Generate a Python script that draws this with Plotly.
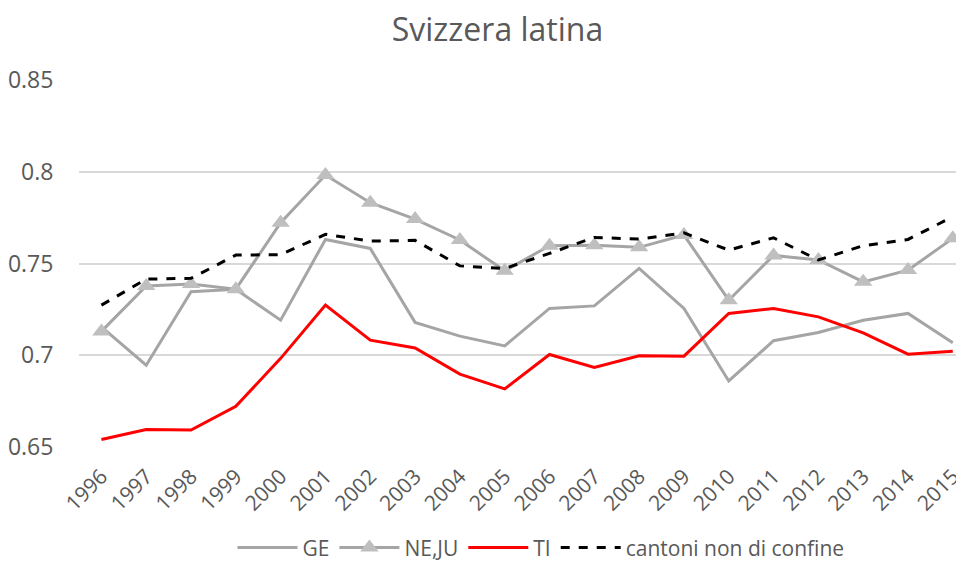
import plotly.graph_objects as go

years = list(range(1996, 2016))
year_labels = [str(y) for y in years]

ge = [0.7155, 0.6946, 0.7346, 0.7359, 0.7191, 0.7631, 0.7582, 0.7179, 0.7104, 0.7051,
      0.7255, 0.7269, 0.7473, 0.7255, 0.6860, 0.7079, 0.7124, 0.7191, 0.7228, 0.7068]
ne_ju = [0.7130, 0.7377, 0.7388, 0.7360, 0.7722, 0.7982, 0.7831, 0.7742, 0.7628, 0.7460,
         0.7597, 0.7600, 0.7588, 0.7655, 0.7300, 0.7544, 0.7519, 0.7400, 0.7464, 0.7637]
ti = [0.6541, 0.6595, 0.6592, 0.6722, 0.6983, 0.7273, 0.7082, 0.7040, 0.6897, 0.6817,
      0.7004, 0.6933, 0.6997, 0.6995, 0.7228, 0.7255, 0.7209, 0.7122, 0.7006, 0.7022]
non_confine = [0.7273, 0.7415, 0.7419, 0.7546, 0.7548, 0.7659, 0.7622, 0.7626, 0.7487, 0.7473,
               0.7555, 0.7642, 0.7633, 0.7667, 0.7573, 0.7640, 0.7519, 0.7597, 0.7631, 0.7755]

y_ticks = [0.65, 0.70, 0.75, 0.80, 0.85]
y_tick_labels = ["0.65", "0.7", "0.75", "0.8", "0.85"]

FONT = "Open Sans"
TXT = "#595959"

fig = go.Figure()
fig.add_trace(go.Scatter(x=years, y=ge, name="GE", mode="lines",
                         line=dict(color="#A5A5A5", width=3)))
fig.add_trace(go.Scatter(x=years, y=ne_ju, name="NE,JU", mode="lines+markers",
                         line=dict(color="#A5A5A5", width=3),
                         marker=dict(symbol="triangle-up", size=16, color="#BFBFBF",
                                     line=dict(width=0))))
fig.add_trace(go.Scatter(x=years, y=ti, name="TI", mode="lines",
                         line=dict(color="#FF0000", width=3)))
fig.add_trace(go.Scatter(x=years, y=non_confine, name="cantoni non di confine", mode="lines",
                         line=dict(color="#000000", width=3, dash="dash")))

fig.update_layout(
    width=956, height=561,
    margin=dict(l=68, r=0, t=72, b=122),
    paper_bgcolor="white", plot_bgcolor="white",
    font=dict(family=FONT, color=TXT, size=21),
    title=dict(text="Svizzera latina", x=0.512, xanchor="center",
               y=1 - 22 / 561, yanchor="middle",
               font=dict(family=FONT, size=32, color=TXT)),
    showlegend=True,
    legend=dict(orientation="h", x=0.522, xanchor="center", y=-0.275, yanchor="middle",
                font=dict(family=FONT, size=21, color=TXT), itemwidth=60,
                traceorder="normal"),
    xaxis=dict(range=[1995.5, 2015.25], tickmode="array", tickvals=years, ticktext=year_labels,
               tickangle=-45, showgrid=False, zeroline=False, showline=False,
               ticks="outside", ticklen=8, tickcolor="rgba(0,0,0,0)",
               ticklabeloverflow="allow",
               tickfont=dict(family=FONT, size=21, color=TXT)),
    yaxis=dict(range=[0.65, 0.85], tickmode="array", tickvals=y_ticks, ticktext=y_tick_labels,
               showgrid=True, gridcolor="#D9D9D9", gridwidth=1.5, zeroline=False, showline=False,
               ticks="outside", ticklen=20, tickcolor="rgba(0,0,0,0)",
               tickfont=dict(family=FONT, size=23, color=TXT)),
)

fig.write_html("out.html")
